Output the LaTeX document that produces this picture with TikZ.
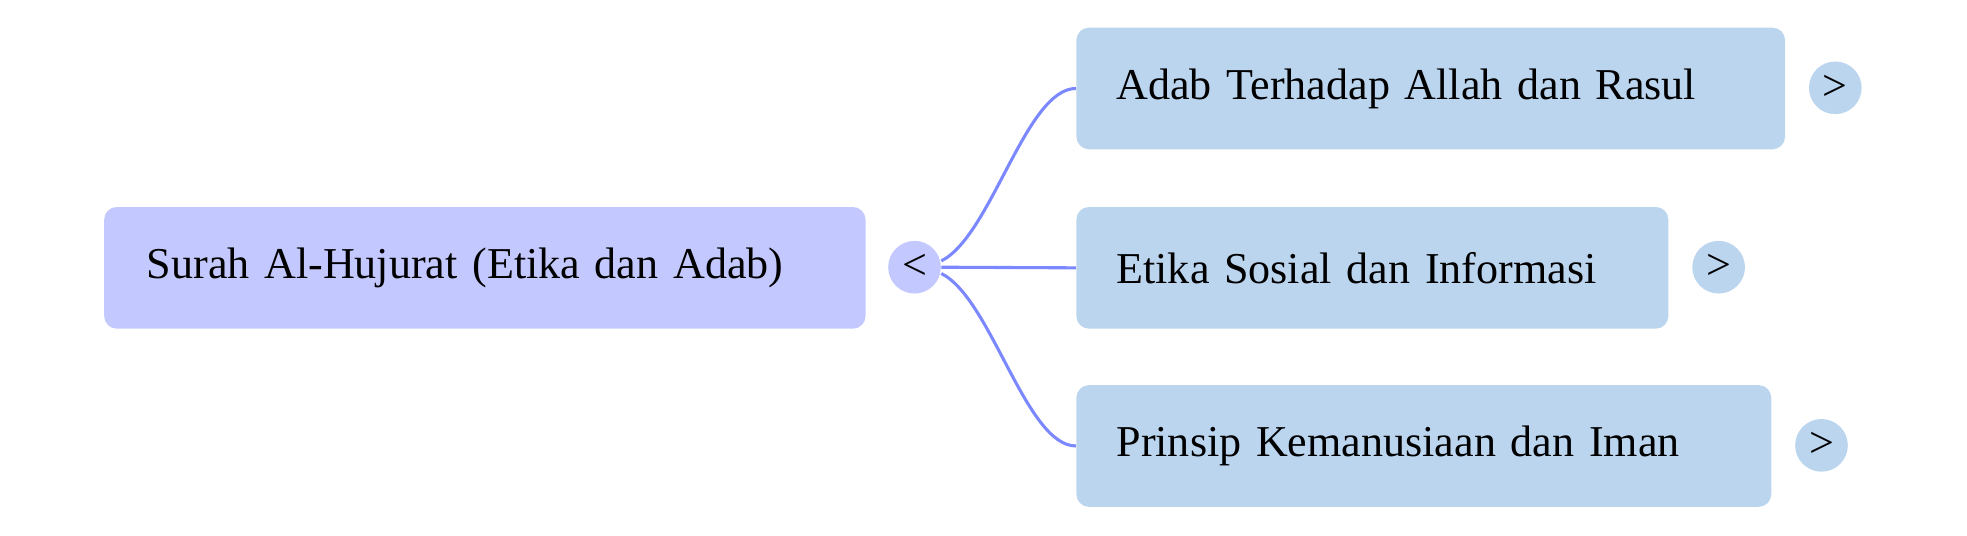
\documentclass[tikz,border=0pt]{standalone}
\usepackage{fontspec}
\setmainfont{Liberation Serif}
\begin{document}
\begin{tikzpicture}[x=0.02cm,y=-0.02cm,
  box/.style={rectangle,rounded corners=0.2cm,minimum height=1.94cm,align=left,font=\fontsize{20}{24}\selectfont,inner ysep=0pt},
  root/.style={box,fill=rootc},
  child/.style={box,fill=childc,inner xsep=0.64cm},
  btn/.style={circle,minimum size=0.84cm,inner sep=0pt,font=\fontsize{20}{24}\selectfont},
  edge/.style={draw=edgec,line width=1.4pt}]
\definecolor{rootc}{HTML}{C3C9FE}
\definecolor{childc}{HTML}{BBD5EF}
\definecolor{edgec}{HTML}{7B88FF}
\useasboundingbox (0,0) rectangle (1568,427);
\node[root,minimum width=12.14cm,text width=10.78cm,inner xsep=0.68cm] (r) at (386.5,213.5) {Surah Al-Hujurat (Etika dan Adab)};
\node[child,minimum width=11.3cm,text width=10.02cm] (a) at (1140.5,70.5) {Adab Terhadap Allah dan Rasul};
\node[child,minimum width=9.44cm,text width=8.16cm] (b) at (1094,213.5) {Etika Sosial dan Informasi};
\node[child,minimum width=11.08cm,text width=9.8cm] (c) at (1135,355.5) {Prinsip Kemanusiaan dan Iman};
\node[btn,fill=rootc] (t) at (729,213) {<};
\node[btn,fill=childc] (ta) at (1463,70) {>};
\node[btn,fill=childc] (tb) at (1370,213) {>};
\node[btn,fill=childc] (tc) at (1452,355) {>};
\draw[edge] ([yshift=0.1cm]t.east) .. controls +(40,-20) and +(-40,0) .. (a.west);
\draw[edge] (t.east) -- (b.west);
\draw[edge] ([yshift=-0.1cm]t.east) .. controls +(40,20) and +(-40,0) .. (c.west);
\end{tikzpicture}
\end{document}
